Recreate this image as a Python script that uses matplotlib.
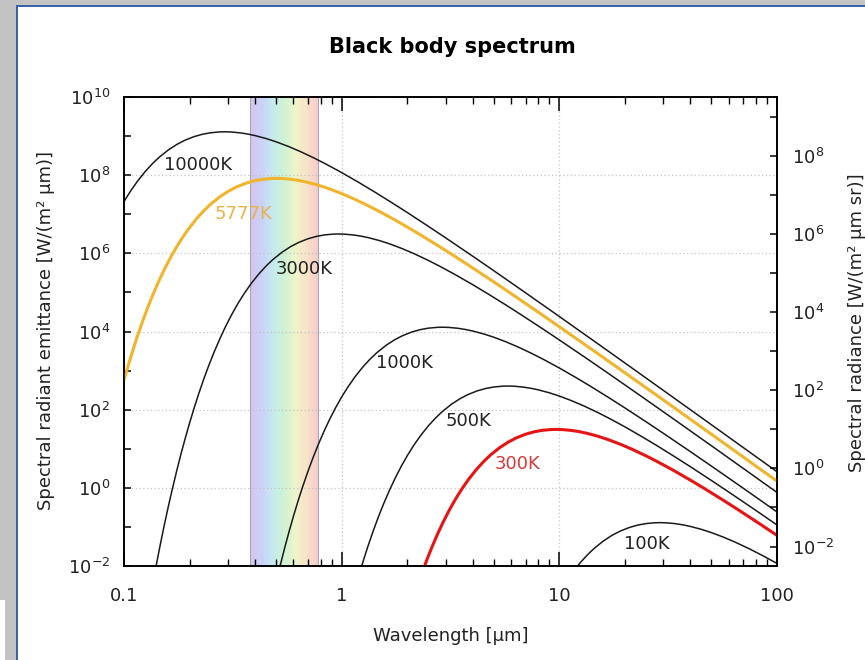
import numpy as np
import matplotlib
matplotlib.use('Agg')
import matplotlib.pyplot as plt
from matplotlib.colors import LinearSegmentedColormap
from matplotlib.patches import Rectangle
from matplotlib.ticker import FixedLocator, NullFormatter, LogFormatterSciNotation

plt.rcParams['axes.unicode_minus'] = False

# Espectro do corpo negro (log10 da emitancia em W/(m2 um))
wl_10000 = [0.1, 0.107, 0.115, 0.125, 0.135, 0.145, 0.16, 0.175, 0.19, 0.21, 0.23, 0.25, 0.275,
            0.29, 0.31, 0.34, 0.37, 0.4, 0.45, 0.5, 0.57, 0.65, 0.75, 0.85, 1.0, 1.2, 1.4, 1.7,
            2.0, 2.5, 3.0, 4.0, 5.0, 7.0, 10, 15, 20, 30, 50, 100]
lg_10000 = [7.3245, 7.5864, 7.8360, 8.0897, 8.2928, 8.4569, 8.6472, 8.7874, 8.8908, 8.9869,
            9.0485, 9.0853, 9.1065, 9.1095, 9.1048, 9.0842, 9.0523, 9.0127, 8.9366, 8.8537,
            8.7337, 8.5975, 8.4336, 8.2792, 8.0658, 7.8123, 7.5885, 7.2966, 7.0454, 6.6924,
            6.3983, 5.9264, 5.5553, 4.9893, 4.3835, 3.6897, 3.1953, 2.4962, 1.6129, 0.4120]

wl_5777 = [0.1, 0.1039, 0.1091, 0.1142, 0.1212, 0.1281, 0.1350, 0.1437, 0.1523, 0.1627, 0.1731,
           0.1852, 0.1991, 0.2164, 0.2337, 0.2510, 0.2770, 0.3029, 0.3289, 0.3635, 0.3981, 0.4328,
           0.4760, 0.5020, 0.5366, 0.5885, 0.6405, 0.6924, 0.7790, 0.8655, 0.9867, 1.1252,
           1.2983, 1.4714, 1.7310, 2.0772, 2.4234, 2.9427, 3.4620, 4.3275, 5.1930, 6.924,
           8.655, 12.117, 17.310, 25.965, 34.620, 51.930, 100]
lg_5777 = [2.7567, 3.0765, 3.4665, 3.8163, 4.2295, 4.5914, 4.9101, 5.2578, 5.5585, 5.8685, 6.1330,
           6.3949, 6.6445, 6.8982, 7.1013, 7.2654, 7.4557, 7.5959, 7.6993, 7.7954, 7.8570, 7.8938,
           7.9150, 7.9180, 7.9133, 7.8928, 7.8608, 7.8212, 7.7451, 7.6622, 7.5422, 7.4060,
           7.2421, 7.0877, 6.8744, 6.6208, 6.3970, 6.1051, 5.8540, 5.5009, 5.2069, 4.7349,
           4.3638, 3.7978, 3.1920, 2.4982, 2.0038, 1.3047, 0.1714]

wl_3000 = [0.14, 0.1467, 0.1533, 0.16, 0.1667, 0.175, 0.1833, 0.1917, 0.2, 0.21, 0.22, 0.2333,
           0.2467, 0.26, 0.2767, 0.2933, 0.3133, 0.3333, 0.3567, 0.3833, 0.4167, 0.45, 0.4833,
           0.5333, 0.5833, 0.6333, 0.7, 0.7667, 0.8333, 0.9167, 0.9667, 1.0333, 1.1333, 1.2333,
           1.3333, 1.5, 1.6667, 1.9, 2.1667, 2.5, 2.8333, 3.3333, 4, 4.6667, 5.6667, 6.6667,
           8.3333, 10, 13.333, 16.667, 23.333, 33.333, 50, 66.667, 100]
lg_3000 = [-2.0352, -1.4600, -0.9390, -0.4655, -0.0334, 0.4558, 0.8958, 1.2932, 1.6536, 2.0436,
           2.3934, 2.8066, 3.1685, 3.4872, 3.8349, 4.1356, 4.4456, 4.7101, 4.9720, 5.2216,
           5.4753, 5.6784, 5.8425, 6.0328, 6.1730, 6.2764, 6.3725, 6.4341, 6.4709, 6.4921,
           6.4951, 6.4904, 6.4698, 6.4379, 6.3983, 6.3222, 6.2393, 6.1193, 5.9831, 5.8192,
           5.6648, 5.4514, 5.1979, 4.9741, 4.6822, 4.4310, 4.0780, 3.7839, 3.3120, 2.9409,
           2.3749, 1.7691, 1.0753, 0.5809, -0.1182]

wl_1000 = [0.5, 0.525, 0.55, 0.575, 0.6, 0.63, 0.66, 0.7, 0.74, 0.78, 0.83, 0.88, 0.94, 1.0,
           1.07, 1.15, 1.25, 1.35, 1.45, 1.6, 1.75, 1.9, 2.1, 2.3, 2.5, 2.75, 2.9, 3.1, 3.4,
           3.7, 4.0, 4.5, 5.0, 5.7, 6.5, 7.5, 8.5, 10, 12, 14, 17, 20, 25, 30, 40, 50, 70, 100]
lg_1000 = [-2.4190, -1.9298, -1.4898, -1.0924, -0.7320, -0.3421, 0.0078, 0.4210, 0.7829, 1.1016,
           1.4493, 1.7500, 2.0600, 2.3245, 2.5864, 2.8360, 3.0897, 3.2928, 3.4569, 3.6472,
           3.7874, 3.8908, 3.9869, 4.0485, 4.0853, 4.1065, 4.1095, 4.1048, 4.0842, 4.0523,
           4.0127, 3.9366, 3.8537, 3.7337, 3.5975, 3.4336, 3.2792, 3.0658, 2.8123, 2.5885,
           2.2966, 2.0454, 1.6924, 1.3983, 0.9264, 0.5553, -0.0107, -0.6165]

wl_500 = [1.2, 1.26, 1.32, 1.4, 1.48, 1.56, 1.66, 1.76, 1.88, 2.0, 2.14, 2.3, 2.5, 2.7, 2.9,
          3.2, 3.5, 3.8, 4.2, 4.6, 5.0, 5.5, 5.8, 6.2, 6.8, 7.4, 8.0, 9.0, 10, 11.4, 13, 15,
          17, 20, 24, 28, 34, 40, 50, 60, 80, 100]
lg_500 = [-2.2372, -1.8472, -1.4974, -1.0842, -0.7223, -0.4036, -0.0559, 0.2448, 0.5548, 0.8193,
          1.0812, 1.3309, 1.5845, 1.7877, 1.9517, 2.1420, 2.2822, 2.3856, 2.4818, 2.5433,
          2.5802, 2.6014, 2.6043, 2.5997, 2.5791, 2.5471, 2.5076, 2.4314, 2.3485, 2.2286,
          2.0923, 1.9285, 1.7740, 1.5607, 1.3071, 1.0833, 0.7915, 0.5403, 0.1872, -0.1068,
          -0.5787, -0.9499]

wl_300 = [2.3333, 2.4667, 2.6, 2.7667, 2.9333, 3.1333, 3.3333, 3.5667, 3.8333, 4.1667, 4.5,
          4.8333, 5.3333, 5.8333, 6.3333, 7.0, 7.6667, 8.3333, 9.1667, 9.6667, 10.333, 11.333,
          12.333, 13.333, 15, 16.667, 19, 21.667, 25, 28.333, 33.333, 40, 46.667, 56.667,
          66.667, 83.333, 100]
lg_300 = [-2.1934, -1.8315, -1.5128, -1.1651, -0.8644, -0.5544, -0.2899, -0.0280, 0.2216, 0.4753,
          0.6784, 0.8425, 1.0328, 1.1730, 1.2764, 1.3725, 1.4341, 1.4709, 1.4921, 1.4951,
          1.4904, 1.4698, 1.4379, 1.3983, 1.3222, 1.2393, 1.1193, 0.9831, 0.8192, 0.6648,
          0.4514, 0.1979, -0.0259, -0.3178, -0.5690, -0.9220, -1.2161]

wl_100 = [11.5, 12.5, 13.5, 14.5, 16, 17.5, 19, 21, 23, 25, 27.5, 29, 31, 34, 37, 40, 45, 50,
          57, 65, 75, 85, 100]
lg_100 = [-2.1640, -1.9103, -1.7072, -1.5431, -1.3528, -1.2126, -1.1092, -1.0131, -0.9515,
          -0.9147, -0.8935, -0.8905, -0.8952, -0.9158, -0.9477, -0.9873, -1.0634, -1.1463,
          -1.2663, -1.4025, -1.5664, -1.7208, -1.9342]

# faixa do visivel (um)
visivel = [0.38, 0.78]

FS = 13
W, H = 865, 660

fig = plt.figure(figsize=(W / 100, H / 100), dpi=100)
ax = fig.add_axes([124 / W, 1 - 566 / H, 653 / W, 469 / H])
ax.set_xscale('log')
ax.set_yscale('log')
ax.set_xlim(0.1, 100)
ax.set_ylim(1e-2, 1e10)

# faixa colorida do espectro visivel
cores = ['#d6c4f0', '#c9d2f8', '#c6eaee', '#cdf2d4', '#eef4c9', '#f8e3c9', '#f7cccc']
cmap = LinearSegmentedColormap.from_list('vis', cores)
bordas = np.logspace(np.log10(visivel[0]), np.log10(visivel[1]), 61)
for i in range(60):
    ax.axvspan(bordas[i], bordas[i + 1], color=cmap(i / 59), lw=0, zorder=0)
for v in visivel:
    ax.axvline(v, color='#a8a8a8', lw=0.8, zorder=0.5)

# curvas
curvas = [
    (wl_10000, lg_10000, '#1a1a1a', 1.1),
    (wl_5777, lg_5777, '#f0b52c', 2.2),
    (wl_3000, lg_3000, '#1a1a1a', 1.1),
    (wl_1000, lg_1000, '#1a1a1a', 1.1),
    (wl_500, lg_500, '#1a1a1a', 1.1),
    (wl_300, lg_300, '#e61414', 2.2),
    (wl_100, lg_100, '#1a1a1a', 1.1),
]
for wl, lg, cor, lw in curvas:
    ax.plot(wl, 10 ** np.array(lg), color=cor, lw=lw, zorder=3, solid_capstyle='butt')

# rotulos das curvas
ax.text(0.2185, 1.8e8, '10000K', fontsize=FS, ha='center', va='center', color='#222222')
ax.text(0.355, 1.0e7, '5777K', fontsize=FS, ha='center', va='center', color='#e8b448')
ax.text(0.676, 4.0e5, '3000K', fontsize=FS, ha='center', va='center', color='#222222')
ax.text(1.945, 1.55e3, '1000K', fontsize=FS, ha='center', va='center', color='#222222')
ax.text(3.82, 51, '500K', fontsize=FS, ha='center', va='center', color='#222222')
ax.text(6.41, 4.06, '300K', fontsize=FS, ha='center', va='center', color='#d63a3a')
ax.text(25.1, 0.036, '100K', fontsize=FS, ha='center', va='center', color='#222222')

# eixos e ticks
ax.xaxis.set_major_locator(FixedLocator([0.1, 1, 10, 100]))
ax.set_xticklabels(['0.1', '1', '10', '100'])
ax.xaxis.set_minor_locator(FixedLocator([m * 10.0 ** k for k in (-1, 0, 1) for m in range(2, 10)]))
ax.xaxis.set_minor_formatter(NullFormatter())
ax.yaxis.set_major_locator(FixedLocator([10.0 ** k for k in range(-2, 11, 2)]))
ax.yaxis.set_major_formatter(LogFormatterSciNotation())
ax.yaxis.set_minor_locator(FixedLocator([10.0 ** k for k in range(-1, 10, 2)]))
ax.yaxis.set_minor_formatter(NullFormatter())

ax.tick_params(axis='x', which='both', direction='in', top=True, bottom=True, labelsize=FS,
               pad=15, labelcolor='#222222')
ax.tick_params(axis='x', which='major', length=10, width=1.1)
ax.tick_params(axis='x', which='minor', length=5, width=1.0)
ax.tick_params(axis='y', which='both', direction='in', left=True, right=False, length=5,
               width=1.1, labelsize=FS, pad=10, labelcolor='#222222')
for s in ax.spines.values():
    s.set_linewidth(1.2)

ax.grid(True, which='major', color='#c4c4c4', linestyle=(0, (1, 2)), lw=0.9)
for gl in ax.get_xgridlines() + ax.get_ygridlines():
    gl.set_zorder(1)

# eixo direito: radiancia espectral = emitancia / pi
ax2 = ax.twinx()
ax2.set_yscale('log')
ax2.set_ylim(1e-2 / np.pi, 1e10 / np.pi)
ax2.yaxis.set_major_locator(FixedLocator([10.0 ** k for k in range(-2, 9, 2)]))
ax2.yaxis.set_major_formatter(LogFormatterSciNotation())
ax2.yaxis.set_minor_locator(FixedLocator([10.0 ** k for k in range(-1, 10, 2)]))
ax2.yaxis.set_minor_formatter(NullFormatter())
ax2.tick_params(axis='y', which='both', direction='in', length=5, width=1.1, labelsize=FS,
                pad=11, labelcolor='#222222')
for s in ax2.spines.values():
    s.set_linewidth(1.2)

# textos
fig.text(452 / W, 1 - 47 / H, 'Black body spectrum', ha='center', va='center',
         fontsize=15, fontweight='bold')
fig.text(451 / W, 1 - 636 / H, 'Wavelength [µm]', ha='center', va='center', fontsize=FS,
         color='#222222')
fig.text(46 / W, 1 - 330 / H, 'Spectral radiant emittance [W/(m² µm)]', ha='center',
         va='center', rotation=90, fontsize=FS, color='#222222')
fig.text(857 / W, 1 - 323 / H, 'Spectral radiance [W/(m² µm sr)]', ha='center',
         va='center', rotation=90, fontsize=FS, color='#222222')

# moldura da janela (captura de tela)
fig.add_artist(Rectangle((0, 1 - 5 / H), 1, 5 / H, transform=fig.transFigure,
                         color='#c3c3c3', lw=0))
fig.add_artist(Rectangle((0, 60 / H), 16 / W, 1 - 60 / H, transform=fig.transFigure,
                         color='#c3c3c3', lw=0))
fig.add_artist(Rectangle((5 / W, 0), 11 / W, 60 / H, transform=fig.transFigure,
                         color='#c3c3c3', lw=0))
fig.add_artist(Rectangle((16 / W, 0), 2 / W, 1 - 5 / H, transform=fig.transFigure,
                         color='#3d63a6', lw=0))
fig.add_artist(Rectangle((16 / W, 1 - 7 / H), 1, 2 / H, transform=fig.transFigure,
                         color='#3d63a6', lw=0))

fig.savefig('out.png', dpi=100)
